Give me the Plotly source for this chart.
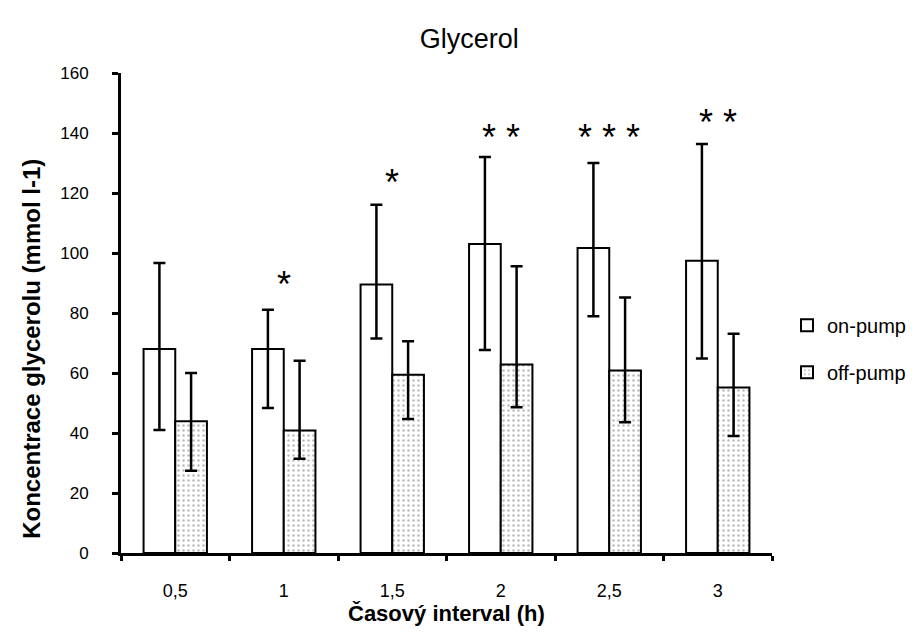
import plotly.graph_objects as go

categories = ["0,5", "1", "1,5", "2", "2,5", "3"]
on_pump = [68, 68, 89.5, 103, 101.7, 97.4]
on_plus = [28.7, 13.1, 26.6, 29, 28.3, 38.9]
on_minus = [27, 19.7, 18, 35.3, 22.8, 32.6]
off_pump = [43.9, 40.8, 59.4, 62.8, 60.8, 55.2]
off_plus = [16.1, 23.3, 11.2, 32.8, 24.4, 17.9]
off_minus = [16.5, 9.4, 14.7, 14.2, 17.2, 16.2]
star_labels = ["", "*", "*", "* *", "* * *", "* *"]
star_y = [None, 91.7, 125.8, 140.8, 140.8, 145.9]

FONT = "Liberation Sans, Arial, sans-serif"

fig = go.Figure()
fig.add_trace(go.Bar(
    name="on-pump", x=categories, y=on_pump, legendgroup="a",
    marker=dict(color="white", line=dict(color="black", width=2)),
    error_y=dict(type="data", array=on_plus, arrayminus=on_minus,
                 color="black", thickness=2.5, width=6),
))
fig.add_trace(go.Bar(
    name="off-pump", x=categories, y=off_pump, legendgroup="b",
    marker=dict(color="white", line=dict(color="black", width=2),
                pattern=dict(shape=".", fgcolor="#777777", bgcolor="white",
                             size=5, solidity=0.2)),
    error_y=dict(type="data", array=off_plus, arrayminus=off_minus,
                 color="black", thickness=2.5, width=6),
))

# category axis: place star annotations by category index
for i, (s, yv) in enumerate(zip(star_labels, star_y)):
    if s and yv is not None:
        fig.add_annotation(x=i, y=yv, xref="x", yref="y", text=s, showarrow=False,
                           font=dict(family=FONT, size=36, color="black"),
                           yanchor="middle", xanchor="center", yshift=-7)

fig.add_annotation(text="<b>Koncentrace glycerolu (mmol l-1)</b>", xref="paper", yref="paper",
                   x=-0.1385, y=0.425, textangle=-90, showarrow=False,
                   xanchor="center", yanchor="middle",
                   font=dict(family=FONT, size=24, color="black"))
fig.add_annotation(text="<b>Časový interval (h)</b>", xref="paper", yref="paper",
                   x=0.5, y=-0.126, showarrow=False, xanchor="center", yanchor="middle",
                   font=dict(family=FONT, size=22, color="black"))

fig.update_layout(
    width=915, height=632,
    margin=dict(l=113, r=145, t=65, b=87),
    paper_bgcolor="white", plot_bgcolor="white",
    barmode="group", bargap=0.416, bargroupgap=0,
    font=dict(family=FONT, color="black"),
    title=dict(text="Glycerol", x=0.504, xref="container", y=0.951, yref="container",
               xanchor="center", yanchor="middle",
               font=dict(family=FONT, size=27, color="black")),
    legend=dict(x=1.023, y=0.515, xanchor="left", yanchor="top",
                font=dict(family=FONT, size=20, color="black"),
                tracegroupgap=18, bgcolor="rgba(0,0,0,0)"),
    showlegend=True,
)
fig.update_xaxes(type="category", showline=True, linecolor="black", linewidth=3,
                 ticks="outside", tickson="boundaries", ticklen=5, tickwidth=3, tickcolor="black",
                 tickfont=dict(family=FONT, size=18, color="black"),
                 ticklabelstandoff=19, showgrid=False, zeroline=False)
fig.update_yaxes(range=[0, 160], dtick=20, showline=True, linecolor="black", linewidth=3,
                 ticks="outside", ticklen=6, tickwidth=3, tickcolor="black",
                 tickfont=dict(family=FONT, size=17, color="black"),
                 ticklabelstandoff=20, showgrid=False, zeroline=False)

fig.write_html("out.html")
